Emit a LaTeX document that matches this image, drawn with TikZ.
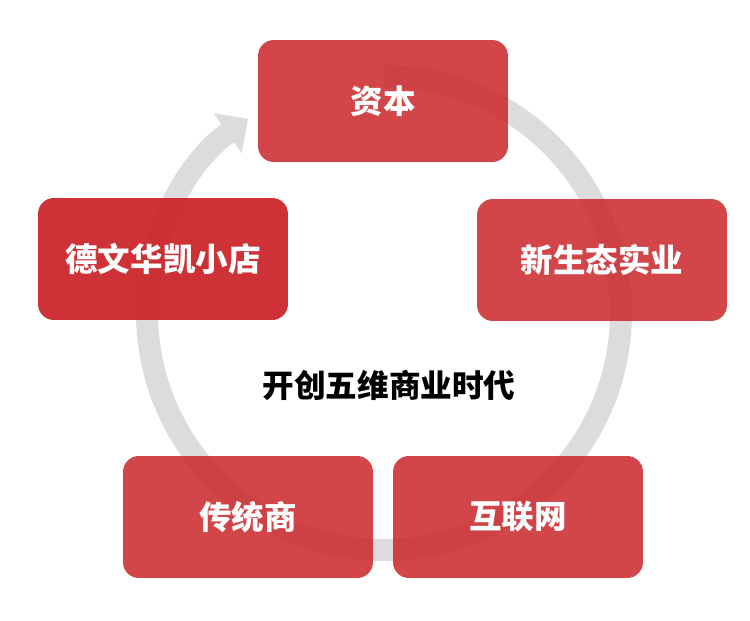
\documentclass[tikz,border=0pt]{standalone}
\usepackage{fontspec}
\setmainfont{Noto Sans CJK SC}
\usepackage{tikz}
\usetikzlibrary{arrows.meta,positioning}
\definecolor{boxred}{HTML}{CC2B30}
\definecolor{ringgray}{HTML}{DCDCDC}

\begin{document}
\begin{tikzpicture}[x=0.02cm, y=-0.02cm,
  box/.style={rectangle, rounded corners=9pt, minimum width=5cm, minimum height=2.44cm, align=center,
    fill=boxred, fill opacity=0.88, text opacity=1, text=white, font=\bfseries\fontsize{18.5}{22}\selectfont},
  ring/.style={line width=0.44cm, draw=ringgray, -{Triangle[width=0.95cm, length=0.5cm]}},
]
\useasboundingbox (0,0) rectangle (750,621);

% cycle ring behind the boxes
\coordinate (hub) at (384,313);
\draw[ring] ([shift={(90:237*0.02cm)}]hub) arc[start angle=90, end angle=-235, radius=4.74cm];

\node[box] (capital) at (383,101) {资本};
\node[box] (ecology) at (602,260) {新生态实业};
\node[box, fill opacity=0.97] (store) at (163,259) {德文华凯小店};
\node[box] (trade) at (248,517) {传统商};
\node[box] (internet) at (518,517) {互联网};

\node[font=\bfseries\fontsize{18}{22}\selectfont] (title) at (389,385) {开创五维商业时代};

\end{tikzpicture}
\end{document}
